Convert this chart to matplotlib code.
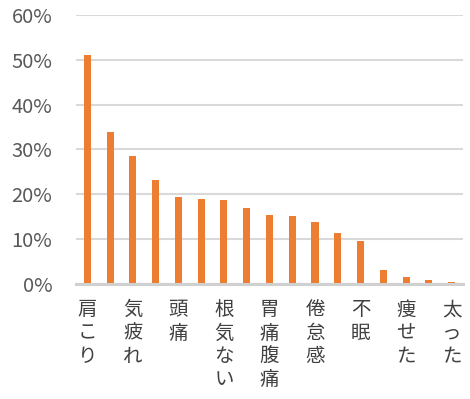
import matplotlib
matplotlib.use("Agg")
import matplotlib.pyplot as plt
from matplotlib.ticker import PercentFormatter
from matplotlib.transforms import ScaledTranslation

plt.rcParams['font.family'] = ['Noto Sans CJK JP', 'DejaVu Sans']

# share of respondents per symptom, sorted descending (17 categories)
values = [51.0, 33.9, 28.5, 23.3, 19.4, 18.9, 18.7, 16.9, 15.3,
          15.1, 13.8, 11.4, 9.6, 3.1, 1.6, 0.8, 0.5]
# labels shown on every second category
tick_labels = ["肩こり", "気疲れ", "頭痛", "根気ない", "胃痛腹痛",
               "倦怠感", "不眠", "痩せた", "太った"]
y_ticks = [0, 10, 20, 30, 40, 50, 60]

fig = plt.figure(figsize=(4.70, 3.99), dpi=100)
ax = fig.add_axes([0.1617, 0.288, 0.8233, 0.675])

x = list(range(len(values)))
ax.bar(x, values, width=0.31, color="#ED7D31", zorder=3)

ax.set_xlim(-0.5, len(values) - 0.5)
ax.set_ylim(0, 60)
ax.set_yticks(y_ticks)
ax.yaxis.set_major_formatter(PercentFormatter(decimals=0))
ax.grid(axis="y", color="#D9D9D9", linewidth=1.5, zorder=0)

ax.set_xticks(x[::2])
ax.set_xticklabels(["\n".join(lbl) for lbl in tick_labels],
                   fontsize=14, color="#404040", linespacing=1.14,
                   va="top")
shift = ScaledTranslation(5 / 100, 0, fig.dpi_scale_trans)
for lbl in ax.get_xticklabels():
    lbl.set_transform(lbl.get_transform() + shift)
ax.tick_params(axis="x", length=0, pad=11)
ax.tick_params(axis="y", length=0, pad=17, labelsize=14.5, labelcolor="#595959")

for side in ("top", "right", "left"):
    ax.spines[side].set_visible(False)
ax.spines["bottom"].set_color("#D0D0D0")
ax.spines["bottom"].set_linewidth(2.2)
ax.spines["bottom"].set_zorder(4)

fig.savefig("out.png", dpi=100)
